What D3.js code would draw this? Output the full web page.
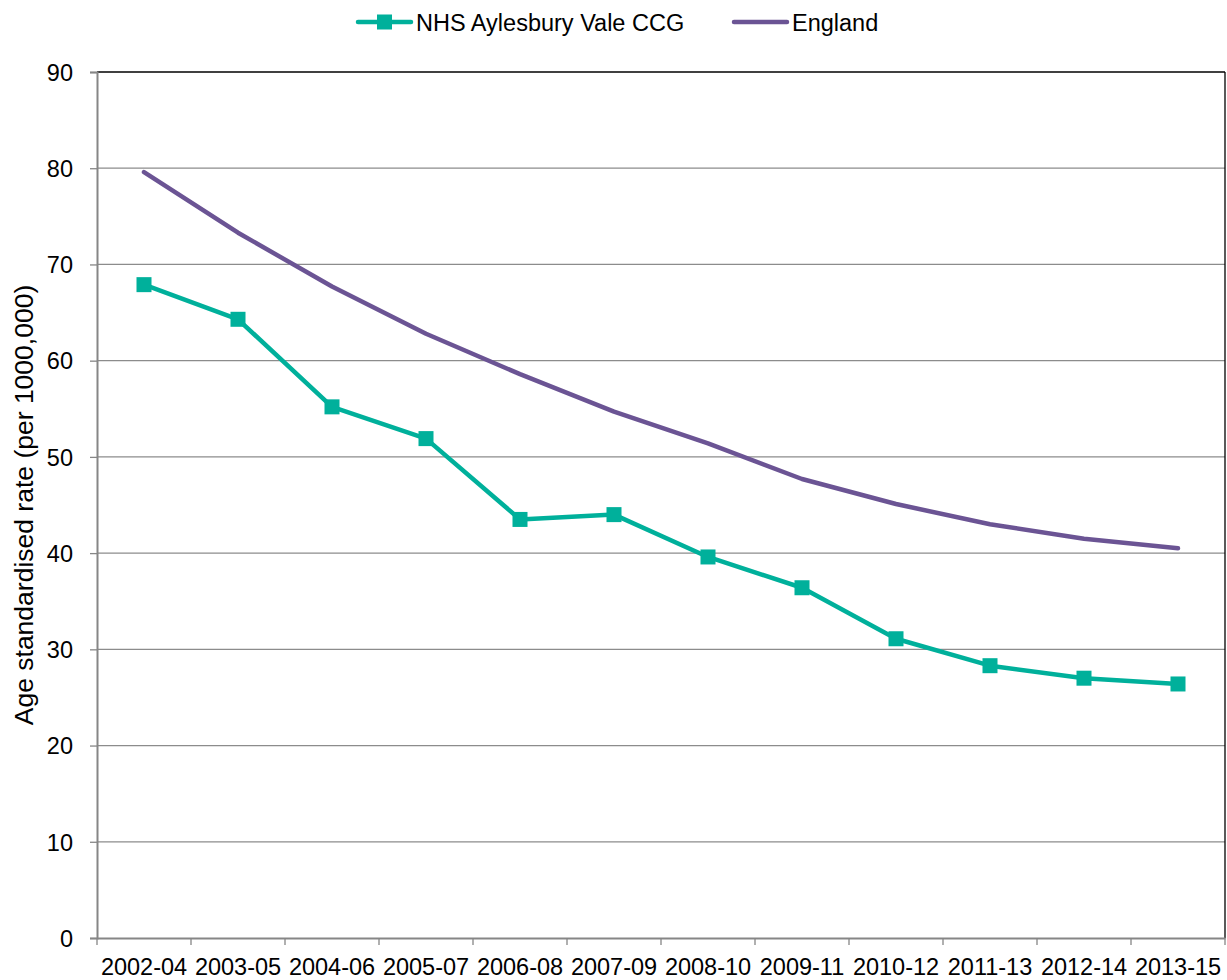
<!DOCTYPE html>
<html><head><meta charset="utf-8">
<script src="https://cdnjs.cloudflare.com/ajax/libs/d3/7.8.5/d3.min.js"></script>
<style>body{margin:0;background:#fff;font-family:"Liberation Sans",Arial,sans-serif;}</style>
</head><body><svg id="c" width="1227" height="980"></svg>
<script>
const categories = ["2002-04","2003-05","2004-06","2005-07","2006-08","2007-09","2008-10","2009-11","2010-12","2011-13","2012-14","2013-15"];
const ccgValues = [67.9,64.3,55.2,51.9,43.5,44.0,39.6,36.4,31.1,28.3,27.0,26.4];
const englandValues = [79.6,73.3,67.7,62.8,58.6,54.7,51.4,47.7,45.1,43.0,41.5,40.5];
const yTicks = [0,10,20,30,40,50,60,70,80,90];
const seriesNames = ["NHS Aylesbury Vale CCG","England"];

const svg = d3.select("#c");
const FONT = "Liberation Sans, Arial, sans-serif";
const L=97, R=1225, T=72, B=938;
const x = d3.scaleBand().domain(categories).range([L,R]);
const y = d3.scaleLinear().domain([0,90]).range([B,T]);
const teal="#00B09B", purple="#6B5494";

// gridlines
svg.append("g").selectAll("line").data(yTicks.filter(d=>d>0&&d<90)).join("line")
  .attr("x1",L).attr("x2",R).attr("y1",d=>y(d)).attr("y2",d=>y(d))
  .attr("stroke","#8c8c8c").attr("stroke-width",1.3);
// top/right border
svg.append("line").attr("x1",L).attr("x2",R).attr("y1",T).attr("y2",T).attr("stroke","#000").attr("stroke-width",1.3);
svg.append("line").attr("x1",R).attr("x2",R).attr("y1",T).attr("y2",B).attr("stroke","#000").attr("stroke-width",1.3);

// y axis
const ya = svg.append("g").attr("transform",`translate(${L},0)`)
  .call(d3.axisLeft(y).tickValues(yTicks).tickSize(7).tickPadding(17));
ya.select(".domain").attr("stroke","#868686").attr("stroke-width",2);
ya.selectAll(".tick line").attr("stroke","#868686").attr("stroke-width",1.3);
ya.selectAll("text").attr("font-family",FONT).attr("font-size",23.5).attr("fill","#000").attr("dy","0.35em");

// x axis
const xa = svg.append("g").attr("transform",`translate(0,${B})`)
  .call(d3.axisBottom(x).tickSize(0).tickPadding(0));
xa.select(".domain").attr("stroke","#868686").attr("stroke-width",2);
xa.selectAll("text").attr("font-family",FONT).attr("font-size",23.5).attr("fill","#000").attr("y",37).attr("dy","0");
const bounds = categories.map(c=>x(c)).concat([R]);
svg.append("g").selectAll("line").data(bounds).join("line")
  .attr("x1",d=>d).attr("x2",d=>d).attr("y1",B).attr("y2",B+7)
  .attr("stroke","#868686").attr("stroke-width",1.3);

// y title
svg.append("text").attr("transform",`translate(33,${(T+B)/2}) rotate(-90)`)
  .attr("text-anchor","middle").attr("font-family",FONT).attr("font-size",26.5).attr("fill","#000")
  .text("Age standardised rate (per 1000,000)");

const cx = c=>x(c)+x.bandwidth()/2;
const line = d3.line().x((d,i)=>cx(categories[i])).y(d=>y(d));

svg.append("path").datum(englandValues).attr("d",line).attr("fill","none")
  .attr("stroke",purple).attr("stroke-width",4.5).attr("stroke-linecap","round").attr("stroke-linejoin","round");
svg.append("path").datum(ccgValues).attr("d",line).attr("fill","none")
  .attr("stroke",teal).attr("stroke-width",4.5).attr("stroke-linejoin","round");
svg.append("g").selectAll("rect").data(ccgValues).join("rect")
  .attr("x",(d,i)=>cx(categories[i])-7.5).attr("y",d=>y(d)-7.5).attr("width",15).attr("height",15).attr("fill",teal);

// legend
const lg = svg.append("g").attr("font-family",FONT);
lg.append("line").attr("x1",358).attr("x2",411).attr("y1",22).attr("y2",22).attr("stroke",teal).attr("stroke-width",4.5).attr("stroke-linecap","round");
lg.append("rect").attr("x",377).attr("y",14.5).attr("width",15).attr("height",15).attr("fill",teal);
lg.append("text").attr("x",416).attr("y",30.5).attr("font-size",23.5).attr("fill","#000").text(seriesNames[0]);
lg.append("line").attr("x1",734).attr("x2",787).attr("y1",22).attr("y2",22).attr("stroke",purple).attr("stroke-width",4.5).attr("stroke-linecap","round");
lg.append("text").attr("x",792).attr("y",30.5).attr("font-size",23.5).attr("fill","#000").text(seriesNames[1]);
</script></body></html>
